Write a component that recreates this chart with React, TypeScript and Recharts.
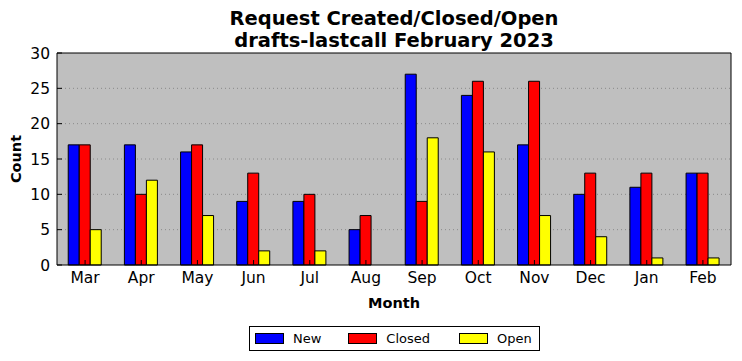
import React from "react"
import { BarChart, Bar, XAxis, YAxis, CartesianGrid } from "recharts"

// Monthly request counts
const months = ["Mar", "Apr", "May", "Jun", "Jul", "Aug", "Sep", "Oct", "Nov", "Dec", "Jan", "Feb"]
const created = [17, 17, 16, 9, 9, 5, 27, 24, 17, 10, 11, 13]
const closed = [17, 10, 17, 13, 10, 7, 9, 26, 26, 13, 13, 13]
const open = [5, 12, 7, 2, 2, 0, 18, 16, 7, 4, 1, 1]
const yTicks = [0, 5, 10, 15, 20, 25, 30]

const SERIES = [
  { key: "New", color: "#0000ff" },
  { key: "Closed", color: "#ff0000" },
  { key: "Open", color: "#ffff00" },
]

const FONT = "'DejaVu Sans', sans-serif"

export default function App() {
  const data = months.map((m, i) => ({ month: m, New: created[i], Closed: closed[i], Open: open[i] }))

  return (
    <div style={{ position: "absolute", left: 0, top: 0, width: 742, height: 361, background: "#fff", fontFamily: FONT }}>
      {/* title */}
      <div style={{ position: "absolute", left: 57, width: 674, top: 8, textAlign: "center", fontSize: 19.5, fontWeight: "bold", lineHeight: "22px", color: "#000" }}>
        <div>Request Created/Closed/Open</div>
        <div>drafts-lastcall February 2023</div>
      </div>

      <BarChart
        width={742}
        height={361}
        data={data}
        margin={{ top: 43, right: 0, bottom: 51, left: 0 }}
        barGap={0}
        barCategoryGap="20%"
        style={{ fontFamily: FONT }}
      >
        <CartesianGrid vertical={false} fill="#bfbfbf" stroke="#8a8a8a" strokeDasharray="1 3" horizontalValues={[5, 10, 15, 20, 25]} />
        <XAxis
          dataKey="month"
          height={45}
          axisLine={{ stroke: "#000", strokeWidth: 1 }}
          tickLine={{ stroke: "#000" }}
          tickSize={-5}
          tickMargin={12}
          tick={{ fill: "#000", fontSize: 15.5 }}
          interval={0}
          label={{ value: "Month", position: "insideBottom", offset: 2, fill: "#000", fontSize: 14.5, fontWeight: "bold" }}
        />
        <XAxis
          xAxisId="top"
          dataKey="month"
          orientation="top"
          height={10}
          axisLine={{ stroke: "#000", strokeWidth: 1 }}
          tickLine={{ stroke: "#000" }}
          tickSize={-5}
          tick={false}
          interval={0}
        />
        <YAxis
          domain={[0, 30]}
          ticks={yTicks}
          width={57}
          axisLine={{ stroke: "#000", strokeWidth: 1 }}
          tickLine={{ stroke: "#000" }}
          tickSize={-5}
          tickMargin={12}
          tick={{ fill: "#000", fontSize: 15.5 }}
          label={{ value: "Count", angle: -90, position: "insideLeft", offset: 16, fill: "#000", fontSize: 14.5, fontWeight: "bold", style: { textAnchor: "middle" } }}
        />
        <YAxis
          yAxisId="right"
          orientation="right"
          domain={[0, 30]}
          ticks={yTicks}
          width={11}
          axisLine={{ stroke: "#000", strokeWidth: 1 }}
          tickLine={{ stroke: "#000" }}
          tickSize={-5}
          tick={false}
        />
        {SERIES.map((s) => (
          <Bar key={s.key} dataKey={s.key} fill={s.color} stroke="#000" strokeWidth={1} isAnimationActive={false} />
        ))}
      </BarChart>

      {/* legend */}
      <div style={{ position: "absolute", left: 249, top: 326, width: 289, height: 23, border: "1px solid #000", background: "#fff", display: "flex", alignItems: "center", fontSize: 13, color: "#000" }}>
        {SERIES.map((s, i) => (
          <div key={s.key} style={{ display: "flex", alignItems: "center", marginLeft: i === 0 ? 5 : 0, marginRight: i === 0 ? 27 : i === 1 ? 29 : 0 }}>
            <span style={{ display: "inline-block", width: 27, height: 9, background: s.color, border: "1px solid #000", marginRight: 9 }} />
            <span>{s.key}</span>
          </div>
        ))}
      </div>
    </div>
  )
}
